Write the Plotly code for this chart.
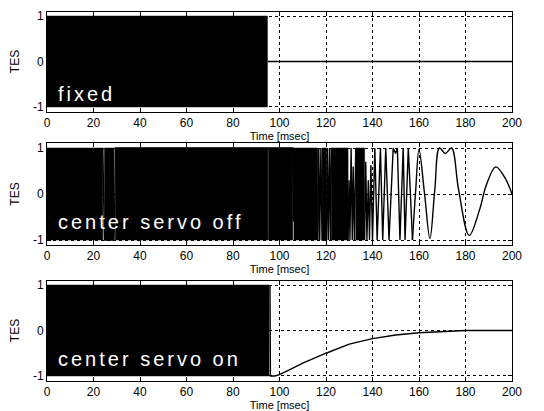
import plotly.graph_objects as go

# ---------------- data ----------------
time_ticks = [0, 20, 40, 60, 80, 100, 120, 140, 160, 180, 200]
tes_ticks = [-1, 0, 1]
dense_hi = 1.0   # envelope of the unresolved (dense) oscillation
dense_lo = -1.0

# panel 1: fixed
fixed_dense = [(0.0, 94.8)]
fixed_t = [94.8, 200.0]
fixed_v = [0.0, 0.0]

# panel 2: center servo off
off_dense = [(0.0, 24.0), (24.7, 28.8), (29.4, 95.0), (95.2, 105.7),
             (106.2, 116.5), (118.3, 120.2), (122.3, 129.5), (132.8, 136.6)]
off_fast_t = [24.0, 24.35, 24.7, 28.8, 29.1, 29.4, 105.7, 105.95, 106.2,
              116.5, 116.9, 117.3, 117.8, 118.3,
              120.2, 120.6, 121.0, 121.5, 121.9, 122.3,
              129.5, 129.9, 130.3, 130.8, 131.3, 131.7, 132.2, 132.8,
              136.6, 137.1, 137.6, 138.2, 138.7, 139.3, 140.0, 141.0, 142.0,
              143.4, 144.4, 145.7, 147.1, 148.9, 149.9, 150.7, 151.8, 153.2,
              154.0, 155.4, 157.2]
off_fast_v = [1.0, 0.0, -1.0, -1.0, -0.4, 1.0, 1.0, -0.6, 1.0,
              -1.0, 1.0, -1.0, 1.0, -1.0,
              -1.0, 1.0, -1.0, 1.0, -1.0, 1.0,
              -1.0, 0.3, -1.0, 1.0, -1.0, 0.6, -1.0, 1.0,
              -1.0, 0.7, -1.0, 0.3, -1.0, 0.63, -1.0, 1.0, -1.0,
              1.0, -1.0, 1.0, -1.0, 1.0, 0.88, 1.0, -1.0, 1.0,
              -1.0, 1.0, -1.0]
off_slow_t = [157.2, 158.6, 160.0, 162.4, 164.7, 166.8, 168.8, 171.3, 174.0,
              177.0, 181.6, 186.0, 189.0, 193.0, 197.0, 200.0]
off_slow_v = [-1.0, 0.1, 0.97, 0.0, -0.97, 0.1, 1.0, 0.88, 1.0,
              0.1, -0.9, -0.35, 0.2, 0.59, 0.35, 0.0]

# panel 3: center servo on
on_dense = [(0.0, 95.5)]
on_t = [95.9, 96.1, 98.0, 100.0, 104.0, 110.0, 120.0, 130.0, 140.0, 150.0,
        160.0, 170.0, 180.0, 200.0]
on_v = [1.0, -1.0, -1.0, -0.97, -0.87, -0.72, -0.5, -0.3, -0.18, -0.1,
        -0.05, -0.02, 0.0, 0.0]

labels = ["fixed", "center servo off", "center servo on"]
label_pos = [-0.72, -0.6, -0.62]

# ---------------- figure ----------------
W, H = 536.0, 403.0   # page body adds an 8px margin
boxes = [(3.5, 103.5), (135.4, 236.6), (272.5, 372.5)]  # pixel top/bottom of axes boxes
domains = [[1 - b / H, 1 - t / H] for t, b in boxes]

fig = go.Figure()
FONT = "Liberation Sans, Arial, Helvetica, sans-serif"


def add_dense(segs, k):
    for s, e in segs:
        fig.add_trace(go.Scatter(
            x=[s, e, e, s, s], y=[dense_lo, dense_lo, dense_hi, dense_hi, dense_lo],
            mode="lines", fill="toself", fillcolor="black",
            line=dict(color="black", width=0.5),
            xaxis=f"x{k}", yaxis=f"y{k}", hoverinfo="skip", showlegend=False))


def add_line(t, v, k, shape="linear"):
    fig.add_trace(go.Scatter(
        x=t, y=v, mode="lines", line=dict(color="black", width=1.4, shape=shape),
        xaxis=f"x{k}", yaxis=f"y{k}", showlegend=False))


add_dense(fixed_dense, 1)
add_line(fixed_t, fixed_v, 1)
add_dense(off_dense, 2)
add_line(off_fast_t, off_fast_v, 2)
add_line(off_slow_t, off_slow_v, 2, shape="spline")
add_dense(on_dense, 3)
add_line(on_t, on_v, 3)

layout = dict(
    template="none",
    width=W, height=H,
    margin=dict(l=39, r=32, t=0, b=0),
    paper_bgcolor="white", plot_bgcolor="white",
    font=dict(family=FONT, size=12, color="black"),
    showlegend=False,
)
annotations = []
for i in range(3):
    k = i + 1
    xa = dict(
        domain=[0, 1], range=[0, 200], tickvals=time_ticks,
        ticks="inside", ticklen=4, tickcolor="black", tickwidth=1,
        showline=True, linecolor="black", linewidth=1, mirror="ticks",
        showgrid=True, gridcolor="black", gridwidth=1, griddash="3px,3px",
        zeroline=False, anchor=f"y{k}",
        tickfont=dict(family=FONT, size=12),
        title=dict(text="Time [msec]", font=dict(family=FONT, size=11), standoff=0),
        automargin=False,
    )
    ya = dict(
        domain=domains[i], range=[-1.1, 1.1], tickvals=tes_ticks,
        ticktext=["-1", "0", "1"],
        ticks="inside", ticklen=4, tickcolor="black", tickwidth=1,
        showline=True, linecolor="black", linewidth=1, mirror="ticks",
        showgrid=True, gridcolor="black", gridwidth=1, griddash="3px,3px",
        zeroline=False, anchor=f"x{k}",
        tickfont=dict(family=FONT, size=12),
        title=dict(text="TES", font=dict(family=FONT, size=12), standoff=12),
        automargin=False,
    )
    layout["xaxis" if k == 1 else f"xaxis{k}"] = xa
    layout["yaxis" if k == 1 else f"yaxis{k}"] = ya
    annotations.append(dict(
        text=f'<span style="letter-spacing:3px">{labels[i]}</span>',
        x=4, y=label_pos[i], xref=f"x{k}", yref=f"y{k}",
        xanchor="left", yanchor="middle", showarrow=False,
        font=dict(family=FONT, size=20, color="white")))
layout["annotations"] = annotations
fig.update_layout(**layout)

fig.write_html("out.html")
